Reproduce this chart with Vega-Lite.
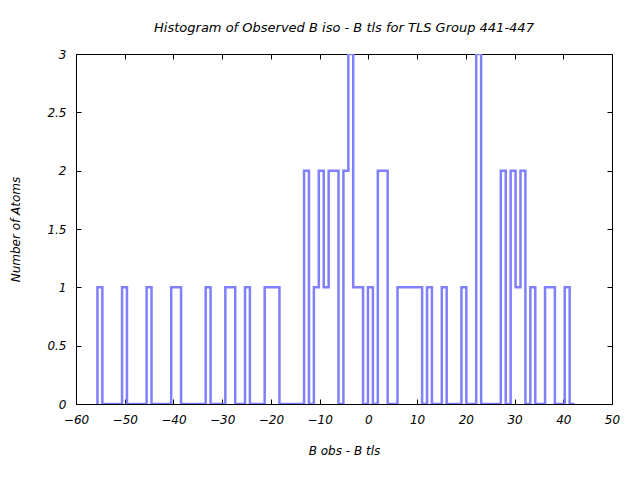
{
  "$schema": "https://vega.github.io/schema/vega-lite/v6.json",
  "width": 536,
  "height": 350,
  "autosize": {"type": "none"},
  "padding": {"left": 76, "top": 54, "right": 28, "bottom": 76},
  "background": "white",
  "config": {
    "view": {"stroke": "black", "strokeWidth": 1},
    "font": "DejaVu Sans",
    "axis": {
      "labelFont": "DejaVu Sans",
      "labelFontStyle": "italic",
      "labelFontSize": 12,
      "labelColor": "black",
      "labelFlush": false,
      "labelOverlap": false,
      "titleFont": "DejaVu Sans",
      "titleFontStyle": "italic",
      "titleFontWeight": "normal",
      "titleFontSize": 12,
      "titleColor": "black",
      "domainColor": "black",
      "domainWidth": 1,
      "tickColor": "black",
      "tickWidth": 1,
      "tickSize": 5,
      "grid": false
    }
  },
  "title": {
    "text": "Histogram of Observed B iso  - B tls  for TLS Group 441-447",
    "font": "DejaVu Sans",
    "fontSize": 13,
    "fontStyle": "italic",
    "fontWeight": "normal",
    "color": "black",
    "offset": 13
  },
  "data": {
    "values": [
      {"i": 0, "x": -55.60, "n": 0},
      {"i": 1, "x": -55.60, "n": 1},
      {"i": 2, "x": -54.59, "n": 0},
      {"i": 3, "x": -50.55, "n": 1},
      {"i": 4, "x": -49.54, "n": 0},
      {"i": 5, "x": -45.51, "n": 1},
      {"i": 6, "x": -44.50, "n": 0},
      {"i": 7, "x": -40.46, "n": 1},
      {"i": 8, "x": -38.44, "n": 0},
      {"i": 9, "x": -33.39, "n": 1},
      {"i": 10, "x": -32.38, "n": 0},
      {"i": 11, "x": -29.35, "n": 1},
      {"i": 12, "x": -27.33, "n": 0},
      {"i": 13, "x": -25.31, "n": 1},
      {"i": 14, "x": -24.31, "n": 0},
      {"i": 15, "x": -21.28, "n": 1},
      {"i": 16, "x": -18.25, "n": 0},
      {"i": 17, "x": -13.20, "n": 2},
      {"i": 18, "x": -12.19, "n": 0},
      {"i": 19, "x": -11.18, "n": 1},
      {"i": 20, "x": -10.17, "n": 2},
      {"i": 21, "x": -9.16, "n": 1},
      {"i": 22, "x": -8.15, "n": 2},
      {"i": 23, "x": -6.13, "n": 0},
      {"i": 24, "x": -5.12, "n": 2},
      {"i": 25, "x": -4.11, "n": 3},
      {"i": 26, "x": -3.11, "n": 1},
      {"i": 27, "x": -1.09, "n": 0},
      {"i": 28, "x": -0.08, "n": 1},
      {"i": 29, "x": 0.93, "n": 0},
      {"i": 30, "x": 1.94, "n": 2},
      {"i": 31, "x": 3.96, "n": 0},
      {"i": 32, "x": 5.98, "n": 1},
      {"i": 33, "x": 11.03, "n": 0},
      {"i": 34, "x": 12.04, "n": 1},
      {"i": 35, "x": 13.05, "n": 0},
      {"i": 36, "x": 15.07, "n": 1},
      {"i": 37, "x": 16.07, "n": 0},
      {"i": 38, "x": 19.10, "n": 1},
      {"i": 39, "x": 20.11, "n": 0},
      {"i": 40, "x": 22.13, "n": 3},
      {"i": 41, "x": 23.14, "n": 0},
      {"i": 42, "x": 27.18, "n": 2},
      {"i": 43, "x": 28.19, "n": 0},
      {"i": 44, "x": 29.20, "n": 2},
      {"i": 45, "x": 30.21, "n": 1},
      {"i": 46, "x": 31.22, "n": 2},
      {"i": 47, "x": 32.23, "n": 0},
      {"i": 48, "x": 33.24, "n": 1},
      {"i": 49, "x": 34.25, "n": 0},
      {"i": 50, "x": 36.26, "n": 1},
      {"i": 51, "x": 38.28, "n": 0},
      {"i": 52, "x": 40.30, "n": 1},
      {"i": 53, "x": 41.31, "n": 0},
      {"i": 54, "x": 42.32, "n": 0}
    ]
  },
  "resolve": {"axis": {"x": "independent", "y": "independent"}},
  "layer": [
    {
      "mark": {"type": "line", "interpolate": "step-after", "color": "#8080ff", "strokeWidth": 2.5, "clip": true},
      "encoding": {
        "x": {
          "field": "x", "type": "quantitative",
          "scale": {"domain": [-60, 50], "nice": false, "zero": false},
          "axis": {
            "orient": "bottom",
            "values": [-60, -50, -40, -30, -20, -10, 0, 10, 20, 30, 40, 50],
            "ticks": false,
            "domain": true,
            "labelPadding": 10,
            "title": "B obs  - B tls",
            "titlePadding": 20
          }
        },
        "y": {
          "field": "n", "type": "quantitative",
          "scale": {"domain": [0, 3], "nice": false},
          "axis": {
            "orient": "left",
            "values": [0, 0.5, 1, 1.5, 2, 2.5, 3],
            "format": "~g",
            "ticks": false,
            "domain": true,
            "labelPadding": 10,
            "title": "Number of Atoms",
            "titlePadding": 24
          }
        },
        "order": {"field": "i", "type": "quantitative"}
      }
    },
    {
      "mark": {"type": "line", "interpolate": "step-after", "strokeOpacity": 0},
      "encoding": {
        "x": {
          "field": "x", "type": "quantitative",
          "axis": {
            "orient": "bottom",
            "offset": -5,
            "values": [-60, -50, -40, -30, -20, -10, 0, 10, 20, 30, 40, 50],
            "domain": false,
            "labels": false,
            "title": null
          }
        },
        "y": {
          "field": "n", "type": "quantitative",
          "axis": {
            "orient": "left",
            "offset": -5,
            "values": [0, 0.5, 1, 1.5, 2, 2.5, 3],
            "domain": false,
            "labels": false,
            "title": null
          }
        },
        "order": {"field": "i", "type": "quantitative"}
      }
    },
    {
      "mark": {"type": "line", "interpolate": "step-after", "strokeOpacity": 0},
      "encoding": {
        "x": {
          "field": "x", "type": "quantitative",
          "axis": {
            "orient": "top",
            "offset": -5,
            "values": [-60, -50, -40, -30, -20, -10, 0, 10, 20, 30, 40, 50],
            "domain": false,
            "labels": false,
            "title": null
          }
        },
        "y": {
          "field": "n", "type": "quantitative",
          "axis": {
            "orient": "right",
            "offset": -5,
            "values": [0, 0.5, 1, 1.5, 2, 2.5, 3],
            "domain": false,
            "labels": false,
            "title": null
          }
        },
        "order": {"field": "i", "type": "quantitative"}
      }
    }
  ]
}
